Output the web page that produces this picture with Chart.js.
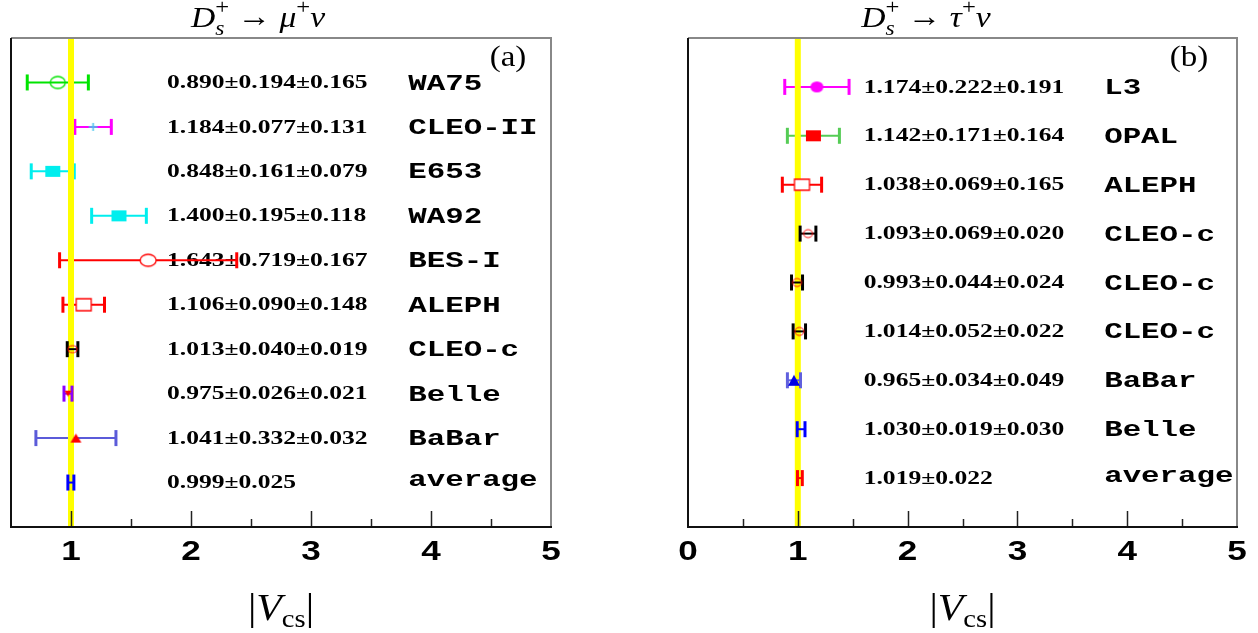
<!DOCTYPE html>
<html>
<head>
<meta charset="utf-8">
<script src="https://cdn.jsdelivr.net/npm/chart.js@4.4.1/dist/chart.umd.min.js"></script>
<style>
  body { margin: 0; background: #fff; }
  .panel { position: absolute; top: 0; width: 629px; height: 633px; }
  #pa { left: 0; }
  #pb { left: 629px; }
</style>
</head>
<body>
<div class="panel" id="pa"><canvas id="cA"></canvas></div>
<div class="panel" id="pb"><canvas id="cB"></canvas></div>
<script>
// panel (a) : Ds -> mu nu
const muExp  = ['WA75', 'CLEO-II', 'E653', 'WA92', 'BES-I', 'ALEPH', 'CLEO-c', 'Belle', 'BaBar', 'average'];
const muVal  = [0.890, 1.184, 0.848, 1.400, 1.643, 1.106, 1.013, 0.975, 1.041, 0.999];
const muStat = [0.194, 0.077, 0.161, 0.195, 0.719, 0.090, 0.040, 0.026, 0.332, 0.025];
const muSyst = [0.165, 0.131, 0.079, 0.118, 0.167, 0.148, 0.019, 0.021, 0.032, null];
const muTicks = [1, 2, 3, 4, 5];
const muTickLabels = ['1', '2', '3', '4', '5'];

// panel (b) : Ds -> tau nu
const tauExp  = ['L3', 'OPAL', 'ALEPH', 'CLEO-c', 'CLEO-c', 'CLEO-c', 'BaBar', 'Belle', 'average'];
const tauVal  = [1.174, 1.142, 1.038, 1.093, 0.993, 1.014, 0.965, 1.030, 1.019];
const tauStat = [0.222, 0.171, 0.069, 0.069, 0.044, 0.052, 0.034, 0.019, 0.022];
const tauSyst = [0.191, 0.164, 0.165, 0.020, 0.024, 0.022, 0.049, 0.030, null];
const tauTicks = [0, 1, 2, 3, 4, 5];
const tauTickLabels = ['0', '1', '2', '3', '4', '5'];

const refVcs = 1;

// styles
const muBarCol = ['#00e400', '#ff00ff', '#00eeee', '#00eeee', '#ff0000', '#ff0000', '#000000', '#8c00ff', '#5b5bd9', '#0000ff'];
const tauBarCol = ['#ff00ff', '#55cc55', '#ff0000', '#000000', '#000000', '#000000', '#6060dd', '#0000ff', '#ff0000'];

function marker(kind, w, h, fill, stroke, lw) {
  const c = document.createElement('canvas');
  c.width = w + 4; c.height = h + 4;
  const g = c.getContext('2d');
  const cx = c.width / 2, cy = c.height / 2;
  g.lineWidth = lw || 1.5;
  g.beginPath();
  if (kind === 'ellipse') g.ellipse(cx, cy, w / 2, h / 2, 0, 0, Math.PI * 2);
  else if (kind === 'rect') g.rect(cx - w / 2, cy - h / 2, w, h);
  else if (kind === 'tri') { g.moveTo(cx, cy - h / 2); g.lineTo(cx + w / 2, cy + h / 2); g.lineTo(cx - w / 2, cy + h / 2); g.closePath(); }
  else if (kind === 'tridown') { g.moveTo(cx, cy + h / 2); g.lineTo(cx + w / 2, cy - h / 2); g.lineTo(cx - w / 2, cy - h / 2); g.closePath(); }
  else if (kind === 'cross') { g.moveTo(cx - w / 2, cy); g.lineTo(cx + w / 2, cy); g.moveTo(cx, cy - h / 2); g.lineTo(cx, cy + h / 2); }
  if (fill) { g.fillStyle = fill; g.fill(); }
  if (stroke) { g.strokeStyle = stroke; g.stroke(); }
  return c;
}

const muMarkers = [
  marker('ellipse', 15, 12, null, '#00e400', 1.3),
  marker('cross', 9, 8, null, '#44c4ee', 1.5),
  marker('rect', 15, 11, '#00eeee'),
  marker('rect', 15, 11, '#00eeee'),
  marker('ellipse', 16, 12, '#ffffff', '#ff0000', 1.3),
  marker('rect', 15, 12, '#ffffff', '#ff0000', 1.3),
  marker('ellipse', 9, 7, null, '#ff0000', 1),
  marker('tridown', 7, 6, '#ff0000'),
  marker('tri', 11, 9, '#ff0000'),
  null
];
const tauMarkers = [
  marker('ellipse', 13, 11, '#ff00ff'),
  marker('rect', 15, 11, '#ff0000'),
  marker('rect', 15, 11, '#ffffff', '#ff0000', 1.3),
  marker('ellipse', 9, 8, null, '#ff0000', 1),
  marker('ellipse', 9, 8, null, '#ff0000', 1),
  marker('ellipse', 9, 8, null, '#ff0000', 1),
  marker('tri', 12, 11, '#0000e6'),
  null,
  null
];

function sText(ctx, txt, x, y, font, sx, align, color) {
  ctx.save();
  ctx.font = font;
  ctx.fillStyle = color || '#000';
  ctx.textBaseline = 'middle';
  ctx.textAlign = align || 'left';
  ctx.translate(x, y);
  ctx.scale(sx, 1);
  ctx.fillText(txt, 0, 0);
  ctx.restore();
}

// parts: [text, font, dy, stacked]
function richText(ctx, parts, cx, base, sx) {
  ctx.save();
  ctx.fillStyle = '#000';
  ctx.textBaseline = 'alphabetic';
  let w = 0;
  parts.forEach(p => { ctx.font = p[1]; if (!p[3]) w += ctx.measureText(p[0]).width; });
  ctx.translate(cx, base);
  ctx.scale(sx, 1);
  let x = -w / 2;
  parts.forEach(p => {
    ctx.font = p[1];
    ctx.fillText(p[0], x, p[2]);
    if (!p[3]) x += ctx.measureText(p[0]).width;
  });
  ctx.restore();
}

const serif = "'Liberation Serif', 'DejaVu Serif', serif";

function makePanel(id, o) {
  const n = o.exp.length;
  const tot = o.val.map((v, i) => o.syst[i] == null ? o.stat[i] : Math.sqrt(o.stat[i] * o.stat[i] + o.syst[i] * o.syst[i]));
  const datasets = [];

  o.val.forEach((v, i) => {
    datasets.push({
      data: [{ x: v - tot[i], y: i }, { x: v + tot[i], y: i }],
      showLine: true,
      borderColor: o.colors[i],
      borderWidth: 2,
      pointStyle: 'line',
      rotation: 90,
      pointRadius: 8,
      pointBorderWidth: 3,
      pointBorderColor: o.colors[i],
      pointBackgroundColor: o.colors[i],
      order: tot[i] < 0.1 ? 1 : 3
    });
  });

  datasets.push({
    data: [{ x: refVcs, y: -1 }, { x: refVcs, y: n }],
    showLine: true,
    borderColor: '#ffff00',
    borderWidth: 6,
    pointRadius: 0,
    clip: 0,
    order: 2
  });

  datasets.push({
    data: o.val.map((v, i) => ({ x: v, y: i })),
    pointStyle: o.markers.map(m => m || 'circle'),
    pointRadius: o.markers.map(m => m ? 5 : 0),
    order: 0
  });

  const panelPlugin = {
    id: 'panel' + id,
    beforeDatasetsDraw(chart) {
      const ctx = chart.ctx, xs = chart.scales.x, ys = chart.scales.y;
      o.exp.forEach((name, i) => {
        const y = ys.getPixelForValue(i);
        let t = o.val[i].toFixed(3) + '±' + o.stat[i].toFixed(3);
        if (o.syst[i] != null) t += '±' + o.syst[i].toFixed(3);
        sText(ctx, t, xs.getPixelForValue(o.textX), y + 1, "bold 18px " + serif, 1.42, 'left');
        const dy = name === 'average' ? -2 : 1.5;
        sText(ctx, name, xs.getPixelForValue(o.nameX), y + dy, "bold 22px 'Liberation Mono', 'DejaVu Sans Mono', monospace", 1.4, 'left');
      });
    },
    afterDraw(chart) {
      const ctx = chart.ctx, a = chart.chartArea, xs = chart.scales.x;
      ctx.save();
      // minor and major ticks, inward
      ctx.strokeStyle = '#222';
      ctx.lineWidth = 1.5;
      for (let v = xs.min + 0.5; v < xs.max; v += 0.5) {
        const px = Math.round(xs.getPixelForValue(v)) + 0.5;
        const len = Number.isInteger(v) ? 16 : 8;
        ctx.beginPath(); ctx.moveTo(px, a.bottom); ctx.lineTo(px, a.bottom - len); ctx.stroke();
      }
      // frame
      ctx.lineWidth = 2;
      ctx.strokeStyle = '#888';
      ctx.beginPath(); ctx.moveTo(a.left, a.top); ctx.lineTo(a.right, a.top); ctx.lineTo(a.right, a.bottom); ctx.stroke();
      ctx.strokeStyle = '#111';
      ctx.beginPath(); ctx.moveTo(a.left, a.top); ctx.lineTo(a.left, a.bottom); ctx.lineTo(a.right + 1, a.bottom); ctx.stroke();
      ctx.restore();

      o.ticks.forEach((v, i) => {
        sText(ctx, o.tickLabels[i], xs.getPixelForValue(v), a.bottom + 26, "bold 27px 'Liberation Sans', Arial, sans-serif", 1.3, 'center');
      });
      sText(ctx, o.tag, a.right - o.tagDx, 58, "30px " + serif, 1.1, 'center');

      richText(ctx, [
        ['D', 'italic 30px ' + serif, 0],
        ['s', 'italic 21px ' + serif, 8, true],
        ['+', '22px ' + serif, -13],
        [' → ', '30px ' + serif, -1],
        [o.lep, 'italic 30px ' + serif, 0],
        ['+', '22px ' + serif, -13],
        ['ν', 'italic 30px ' + serif, 0]
      ], o.titleX, 27, 1.12);

      richText(ctx, [
        ['|', '38px ' + serif, 0],
        ['V', 'italic 38px ' + serif, 0],
        ['cs', '26px ' + serif, 7],
        ['|', '38px ' + serif, 0]
      ], (a.left + a.right) / 2, a.bottom + 93, 1.1);
    }
  };

  return new Chart(document.getElementById(id), {
    type: 'scatter',
    data: { datasets: datasets },
    options: {
      responsive: true,
      maintainAspectRatio: false,
      animation: false,
      events: [],
      layout: { padding: o.pad },
      plugins: { legend: { display: false }, tooltip: { enabled: false } },
      scales: {
        x: { type: 'linear', min: o.xmin, max: o.xmax, display: false },
        y: { type: 'linear', min: -1, max: n, reverse: true, display: false }
      }
    },
    plugins: [panelPlugin]
  });
}

makePanel('cA', {
  exp: muExp, val: muVal, stat: muStat, syst: muSyst, colors: muBarCol, markers: muMarkers,
  ticks: muTicks, tickLabels: muTickLabels, xmin: 0.5, xmax: 5,
  textX: 1.8, nameX: 3.81, tag: '(a)', tagDx: 43, lep: 'μ', titleX: 258,
  pad: { left: 10, right: 78, top: 38, bottom: 106 }
});

makePanel('cB', {
  exp: tauExp, val: tauVal, stat: tauStat, syst: tauSyst, colors: tauBarCol, markers: tauMarkers,
  ticks: tauTicks, tickLabels: tauTickLabels, xmin: 0, xmax: 5,
  textX: 1.6, nameX: 3.79, tag: '(b)', tagDx: 48, lep: 'τ', titleX: 297,
  pad: { left: 59, right: 21, top: 38, bottom: 106 }
});
</script>
</body>
</html>
